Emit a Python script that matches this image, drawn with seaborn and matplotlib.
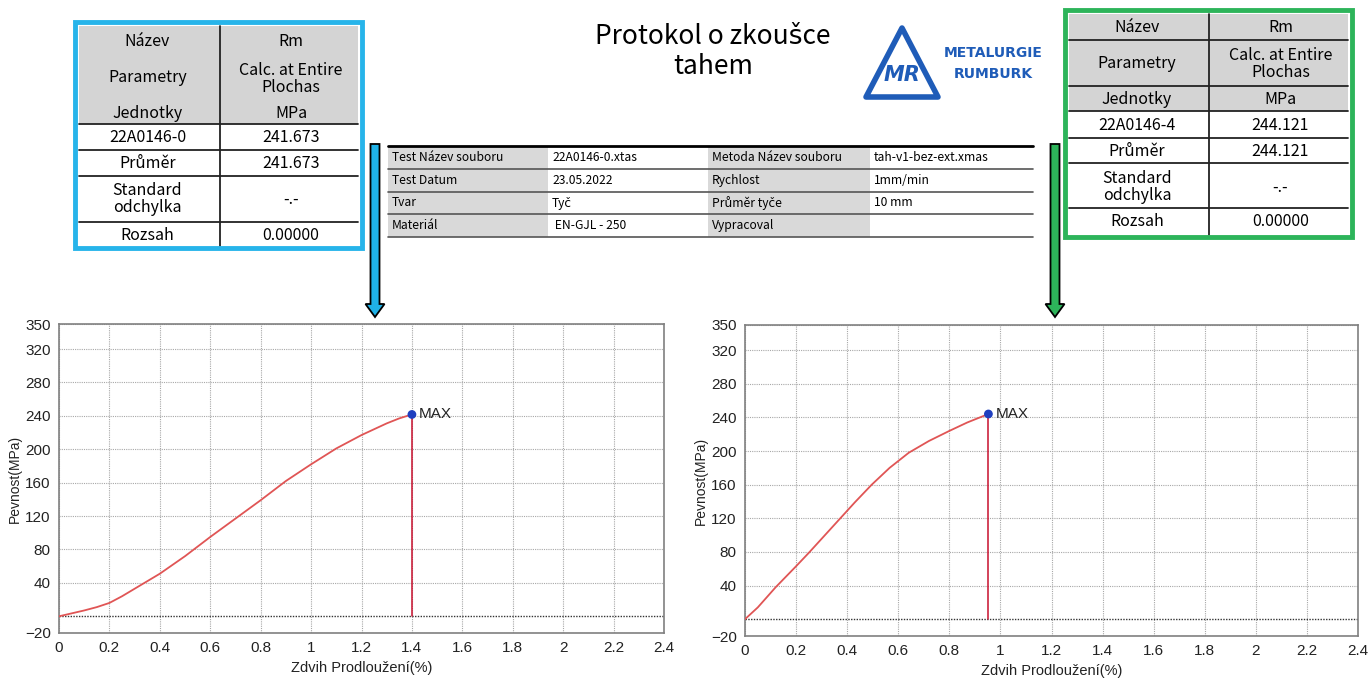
import matplotlib
matplotlib.use("Agg")
import matplotlib.pyplot as plt
import matplotlib.patches as mpatches
import matplotlib.ticker as mtick
import seaborn as sns
import pandas as pd

# --- data ---
left_x = [0, 0.05, 0.1, 0.15, 0.2, 0.25, 0.3, 0.35, 0.4, 0.5, 0.6, 0.7, 0.8, 0.9, 1.0, 1.1, 1.2, 1.3, 1.35, 1.4]
left_y = [0, 3.5, 7, 11, 16, 24, 33, 42, 51, 72, 95, 117, 139, 162, 182, 201, 217, 231, 237, 241.673]
right_x = [0, 0.05, 0.12, 0.2, 0.25, 0.31, 0.37, 0.43, 0.496, 0.566, 0.641, 0.72, 0.8, 0.87, 0.953]
right_y = [0, 14, 38, 63, 79, 99, 119, 139, 160, 180, 198, 212, 224, 234, 244.121]

x_ticks = [0, 0.2, 0.4, 0.6, 0.8, 1, 1.2, 1.4, 1.6, 1.8, 2, 2.2, 2.4]
y_ticks = [-20, 40, 80, 120, 160, 200, 240, 280, 320, 350]

left_table = [("22A0146-0", "241.673"), ("Průměr", "241.673"),
              ("Standard\nodchylka", "-.-"), ("Rozsah", "0.00000")]
right_table = [("22A0146-4", "244.121"), ("Průměr", "244.121"),
               ("Standard\nodchylka", "-.-"), ("Rozsah", "0.00000")]
header_names = ["Název", "Parametry", "Jednotky"]
header_vals = ["Rm", "Calc. at Entire\nPlochas", "MPa"]

info_rows = [
    ["Test Název souboru", "22A0146-0.xtas", "Metoda Název souboru", "tah-v1-bez-ext.xmas"],
    ["Test Datum", "23.05.2022", "Rychlost", "1mm/min"],
    ["Tvar", "Tyč", "Průměr tyče", "10 mm"],
    ["Materiál", " EN-GJL - 250", "Vypracoval", ""],
]

sns.set_style("white")
plt.rcParams["font.family"] = ["Liberation Sans", "DejaVu Sans"]
plt.rcParams["text.color"] = "black"
tfont = ["Noto Sans CJK JP", "DejaVu Sans"]

W, H = 1369, 682
fig = plt.figure(figsize=(W / 100, H / 100), dpi=100)
fig.patch.set_facecolor("white")

# background axes in pixel coordinates for tables, title, arrows
bg = fig.add_axes([0, 0, 1, 1])
bg.set_xlim(0, W)
bg.set_ylim(H, 0)
bg.axis("off")

gray = "#d4d4d4"


def draw_summary(x0, y0, x1, y1, colx, hlines, header_bottom, header_ys, rows_ys, rows, border, sep_header):
    bg.add_patch(mpatches.Rectangle((x0 + 4, y0 + 4), x1 - x0 - 8, header_bottom - y0 - 4,
                                    facecolor=gray, edgecolor="none", zorder=1))
    bg.add_patch(mpatches.Rectangle((x0, y0), x1 - x0, y1 - y0, facecolor="none",
                                    edgecolor=border, lw=3.5, zorder=4))
    bg.plot([colx, colx], [y0 + 4, y1 - 2], color="#222222", lw=1.3, zorder=3)
    for hy in hlines + sep_header:
        bg.plot([x0 + 4, x1 - 4], [hy, hy], color="#222222", lw=1.3, zorder=3)
    cl = (x0 + colx) / 2
    cr = (colx + x1) / 2
    for (name, yn), (val, yv) in zip(zip(header_names, header_ys[0]), zip(header_vals, header_ys[1])):
        bg.text(cl, yn, name, ha="center", va="center", fontsize=11.5, family=tfont, zorder=5)
        bg.text(cr, yv, val, ha="center", va="center", fontsize=11.5, family=tfont,
                linespacing=0.95, zorder=5)
    for (name, val), ry in zip(rows, rows_ys):
        bg.text(cl, ry, name, ha="center", va="center", fontsize=11.5, family=tfont,
                linespacing=1.05, zorder=5)
        bg.text(cr, ry, val, ha="center", va="center", fontsize=11.5, family=tfont, zorder=5)


draw_summary(75, 22, 362, 248, 220, [124, 150, 176, 222], 124,
             ([42, 78, 113], [42, 79, 113]), [138, 164, 199, 236], left_table, "#27b4ea", [])
draw_summary(1065, 10, 1352, 237, 1209, [111, 138, 163, 208], 111,
             ([27, 64, 99], [27, 64, 99]), [125, 151, 187, 222], right_table, "#2db45a", [40, 86])

# middle info table
cols = [388, 548, 708, 870, 1033]
rows_y = [146, 169, 192, 214, 237]
for r, row in enumerate(info_rows):
    for c, txt in enumerate(row):
        if c % 2 == 0:
            bg.add_patch(mpatches.Rectangle((cols[c], rows_y[r]), cols[c + 1] - cols[c],
                                            rows_y[r + 1] - rows_y[r], facecolor="#d9d9d9",
                                            edgecolor="none", zorder=1))
        bg.text(cols[c] + 4, (rows_y[r] + rows_y[r + 1]) / 2, txt, ha="left", va="center",
                fontsize=8.7, family=tfont, zorder=5)
bg.plot([cols[0], cols[-1]], [rows_y[0], rows_y[0]], color="black", lw=2, zorder=3)
for hy in rows_y[1:]:
    bg.plot([cols[0], cols[-1]], [hy, hy], color="#555555", lw=1.2, zorder=3)

# title and logo
bg.text(713, 36, "Protokol o zkoušce", ha="center", va="center", fontsize=19, family=tfont)
bg.text(713, 67, "tahem", ha="center", va="center", fontsize=19, family=tfont)
logo = "#1f5cb8"
bg.add_patch(mpatches.Polygon([(866, 97), (938, 97), (902, 28)], closed=True, facecolor="none",
                              edgecolor=logo, lw=4, joinstyle="round"))
bg.text(902, 75, "MR", ha="center", va="center", fontsize=15, color=logo, fontweight="bold",
        fontstyle="italic", family=["DejaVu Sans"])
bg.text(993, 53, "METALURGIE", ha="center", va="center", fontsize=10, color=logo, fontweight="bold",
        family=["DejaVu Sans"])
bg.text(993, 74, "RUMBURK", ha="center", va="center", fontsize=10, color=logo, fontweight="bold",
        family=["DejaVu Sans"])

# arrows
for ax_x, col in [(375, "#1fb2e8"), (1055, "#2db45a")]:
    bg.add_patch(mpatches.FancyArrow(ax_x, 144, 0, 173, width=9, head_width=19, head_length=13,
                                     length_includes_head=True, facecolor=col, edgecolor="black",
                                     lw=1.3, zorder=6))


def draw_chart(rect, xs, ys):
    ax = fig.add_axes(rect)
    df = pd.DataFrame({"x": xs, "y": ys})
    sns.lineplot(data=df, x="x", y="y", ax=ax, color="#e05555", lw=1.3, zorder=4)
    mx, my = xs[-1], ys[-1]
    ax.plot([mx, mx], [0, my], color="#c8102e", lw=1.1, zorder=4)
    sns.scatterplot(x=[mx], y=[my], ax=ax, color="#1f3fbf", s=40, edgecolor="none", zorder=5)
    ax.annotate("MAX", (mx, my), xytext=(5, 0), textcoords="offset points", va="center",
                fontsize=11, color="#222222")
    ax.set_xlim(0, 2.4)
    ax.set_ylim(-20, 350)
    ax.set_xticks(x_ticks)
    ax.set_yticks(y_ticks)
    ax.xaxis.set_major_formatter(mtick.FormatStrFormatter("%g"))
    ax.grid(True, color="#a8a8a8", linestyle=(0, (1, 1)), lw=0.8)
    ax.axhline(0, color="#333333", linestyle=(0, (1, 1)), lw=1.0, zorder=2)
    ax.tick_params(labelsize=11, length=0, pad=6, labelcolor="#222222")
    for s in ax.spines.values():
        s.set_color("#808080")
        s.set_linewidth(1.2)
    ax.set_xlabel("Zdvih Prodloužení(%)", fontsize=10.5, labelpad=4, color="#222222")
    ax.set_ylabel("Pevnost(MPa)", fontsize=10, labelpad=2, color="#222222")
    return ax


draw_chart([59 / W, 1 - 633 / H, 605 / W, 309 / H], left_x, left_y)
draw_chart([745 / W, 1 - 636 / H, 613 / W, 311 / H], right_x, right_y)

fig.savefig("out.png", dpi=100, facecolor="white")
